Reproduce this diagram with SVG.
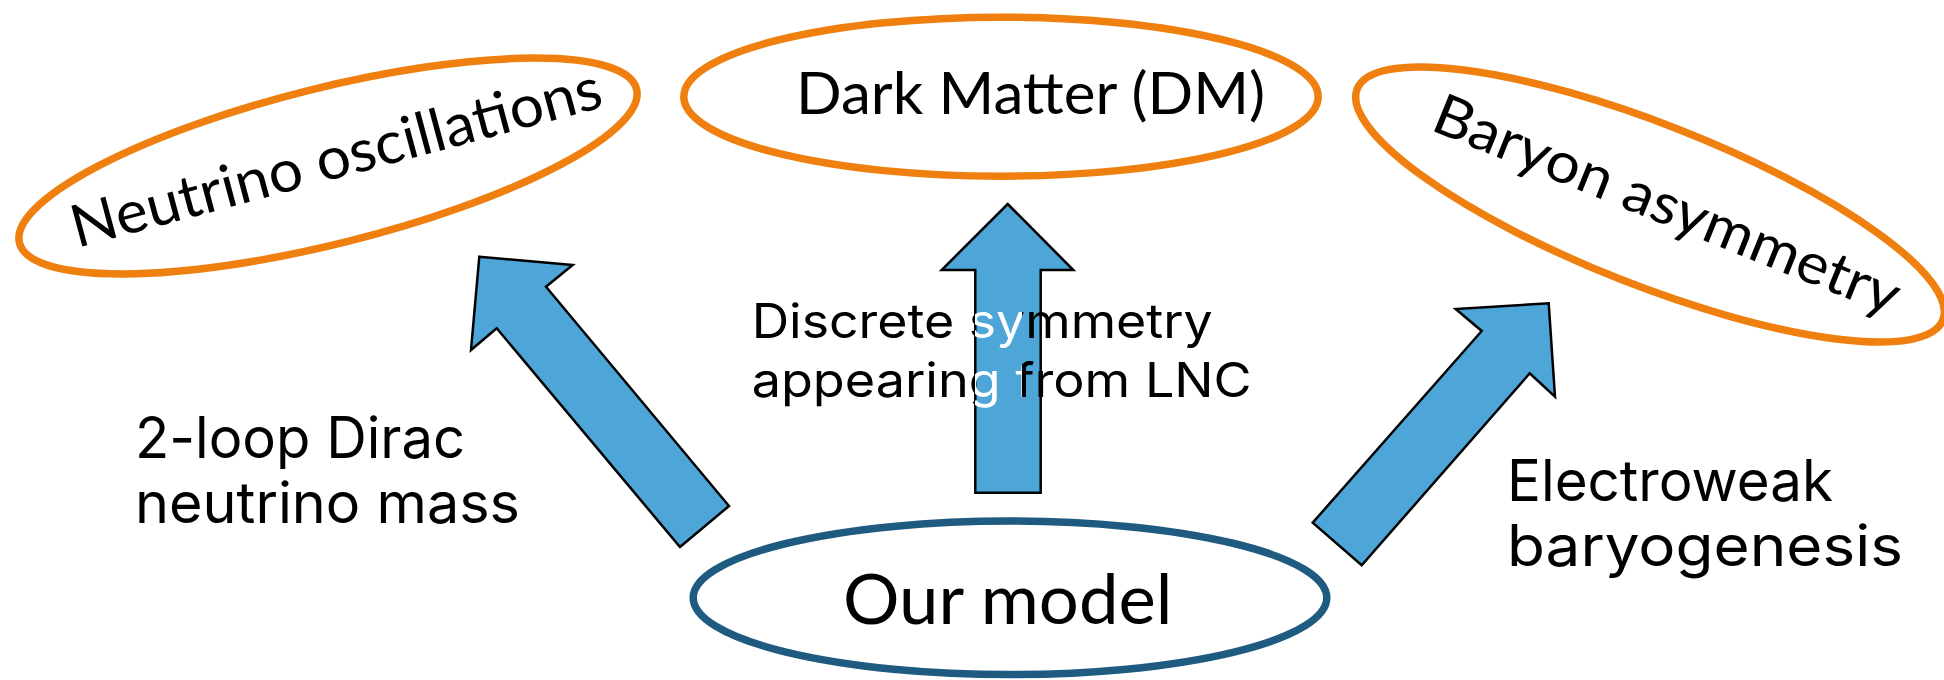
<svg xmlns="http://www.w3.org/2000/svg" width="1944" height="680" viewBox="0 0 1944 680">
  <style>
    .goal { fill: #ffffff; stroke: #EF7F0E; stroke-width: 7.5; }
    .model { fill: #ffffff; stroke: #1F5B80; stroke-width: 7.5; }
    .arrow { fill: #4EA6D8; stroke: #000000; stroke-width: 2.5; stroke-linejoin: miter; }
    .big { font-family: Lato, "Open Sans", "Noto Sans", sans-serif; fill: #000000; }
    .lbl { font-family: Inter, "Liberation Sans", sans-serif; fill: #000000; }
  </style>
  <defs>
    <linearGradient id="dsFill" gradientUnits="userSpaceOnUse" x1="0" y1="0" x2="1944" y2="0">
      <stop offset="0" stop-color="#000000"/>
      <stop offset="0.5015" stop-color="#000000"/>
      <stop offset="0.5015" stop-color="#ffffff"/>
      <stop offset="0.5257" stop-color="#ffffff"/>
      <stop offset="0.5257" stop-color="#000000"/>
      <stop offset="1" stop-color="#000000"/>
    </linearGradient>
  </defs>

  <g id="node-neutrino">
    <ellipse class="goal" cx="0" cy="0" rx="318" ry="78" transform="translate(328,166) rotate(-14)"/>
    <text class="big" font-size="59" transform="translate(77,248) rotate(-15)" x="0" y="0" textLength="547" lengthAdjust="spacingAndGlyphs">Neutrino oscillations</text>
  </g>

  <g id="node-dm">
    <ellipse class="goal" cx="1001" cy="96.7" rx="317.2" ry="79.5"/>
    <text class="big" font-size="59" x="796" y="114.3" textLength="469" lengthAdjust="spacingAndGlyphs">Dark Matter (DM)</text>
  </g>

  <g id="node-baryon">
    <ellipse class="goal" cx="0" cy="0" rx="314.8" ry="80.4" transform="translate(1650,204.5) rotate(21.5)"/>
    <text class="big" font-size="57" transform="translate(1429,129.5) rotate(22)" x="0" y="0" textLength="498" lengthAdjust="spacingAndGlyphs">Baryon asymmetry</text>
  </g>

  <g id="node-model">
    <ellipse class="model" cx="1010" cy="597.8" rx="316.8" ry="76.8"/>
    <text class="big" font-size="69" x="843" y="624" textLength="329.5" lengthAdjust="spacingAndGlyphs">Our model</text>
  </g>

  <g id="connectors">
    <polygon id="arrow-left" class="arrow" points="479.3,256.7 572.7,265 546,286.7 729,506 680,547 496.7,328.3 471,350"/>
    <polygon id="arrow-middle" class="arrow" points="1007.7,204 1073.3,270 1040.7,270 1040.7,492.7 975.3,492.7 975.3,270 941.7,270"/>
    <polygon id="arrow-right" class="arrow" points="1548.7,303.3 1555,396.7 1529.7,373.3 1361.7,565.3 1312.7,522.7 1481.7,331 1455.7,309"/>
  </g>

  <g id="label-left">
    <text class="lbl" font-size="57" x="135" y="458.3" textLength="330" lengthAdjust="spacingAndGlyphs">2-loop Dirac</text>
    <text class="lbl" font-size="57" x="135" y="523.3" textLength="385" lengthAdjust="spacingAndGlyphs">neutrino mass</text>
  </g>

  <g id="label-middle">
    <text class="lbl" font-size="48" x="751.7" y="337.7" textLength="461" lengthAdjust="spacingAndGlyphs" style="fill:url(#dsFill)">Discrete symmetry</text>
    <text class="lbl" font-size="48" x="751.7" y="396.7" textLength="500" lengthAdjust="spacingAndGlyphs" style="fill:url(#dsFill)">appearing from LNC</text>
  </g>

  <g id="label-right">
    <text class="lbl" font-size="57" x="1507" y="500.7" textLength="326" lengthAdjust="spacingAndGlyphs">Electroweak</text>
    <text class="lbl" font-size="57" x="1507" y="566" textLength="396" lengthAdjust="spacingAndGlyphs">baryogenesis</text>
  </g>
</svg>
